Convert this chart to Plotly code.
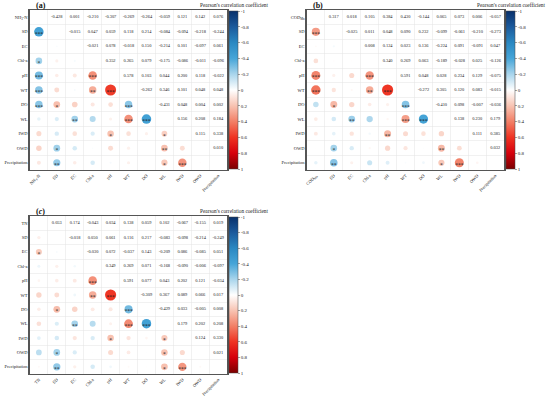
import math
import plotly.graph_objects as go

# ---------------- data ----------------
labels_a = ["NH<sub>3</sub>-N", "SD", "EC", "Chl-a", "pH", "WT", "DO", "WL", "IWD", "OWD", "Precipitation"]
labels_b = ["COD<sub>Mn</sub>", "SD", "EC", "Chl-a", "pH", "WT", "DO", "WL", "IWD", "OWD", "Precipitation"]
labels_c = ["TN", "SD", "EC", "Chl-a", "pH", "WT", "DO", "WL", "IWD", "OWD", "Precipitation"]

# upper-triangle correlation coefficients, row i, columns i+1 .. end
r_a = [
    [-0.428, 0.001, -0.210, -0.307, -0.269, -0.264, -0.059, 0.121, 0.142, 0.076],
    [-0.015, 0.047, 0.059, 0.118, 0.214, -0.084, -0.094, -0.218, -0.244],
    [-0.021, 0.078, -0.018, 0.150, -0.214, 0.101, -0.097, 0.061],
    [0.352, 0.265, 0.079, -0.175, -0.086, -0.011, -0.096],
    [0.578, 0.103, 0.044, 0.200, 0.118, -0.022],
    [-0.262, 0.346, 0.101, 0.048, 0.048],
    [-0.431, 0.048, 0.004, 0.002],
    [0.156, 0.208, 0.184],
    [0.115, 0.338],
    [0.010],
]
r_b = [
    [0.317, 0.018, 0.105, 0.384, 0.430, -0.144, 0.065, 0.073, 0.006, -0.057],
    [-0.025, 0.011, 0.048, 0.090, 0.232, -0.099, -0.061, -0.210, -0.273],
    [0.008, 0.124, 0.023, 0.136, -0.224, 0.091, -0.091, 0.047],
    [0.340, 0.269, 0.063, -0.189, -0.028, 0.025, -0.126],
    [0.591, 0.048, 0.028, 0.234, 0.129, -0.075],
    [-0.272, 0.305, 0.120, 0.083, -0.015],
    [-0.410, 0.098, -0.007, -0.036],
    [0.138, 0.230, 0.179],
    [0.111, 0.385],
    [0.032],
]
r_c = [
    [0.053, 0.174, -0.043, 0.034, 0.138, 0.059, 0.102, -0.067, -0.155, 0.019],
    [-0.018, 0.050, 0.061, 0.116, 0.217, -0.083, -0.098, -0.214, -0.249],
    [-0.030, 0.072, -0.037, 0.143, -0.209, 0.086, -0.085, 0.051],
    [0.349, 0.269, 0.071, -0.168, -0.090, -0.006, -0.097],
    [0.591, 0.077, 0.043, 0.202, 0.121, -0.034],
    [-0.309, 0.367, 0.089, 0.066, 0.017],
    [-0.429, 0.033, -0.005, 0.008],
    [0.179, 0.202, 0.208],
    [0.124, 0.330],
    [0.021],
]

# significance marks in the lower triangle: (row, col, stars)
stars_a = [(1, 0, "***"), (3, 0, "*"), (4, 0, "***"), (4, 3, "***"), (5, 0, "***"), (5, 3, "**"),
           (5, 4, "***"), (6, 0, "***"), (6, 1, "*"), (6, 5, "***"), (7, 2, "**"), (7, 5, "***"),
           (7, 6, "***"), (8, 4, "*"), (8, 7, "*"), (9, 1, "*"), (9, 7, "**"), (10, 1, "**"),
           (10, 7, "*"), (10, 8, "***")]
stars_b = [(1, 0, "***"), (4, 0, "***"), (4, 3, "***"), (5, 0, "***"), (5, 3, "**"), (5, 4, "***"),
           (6, 1, "*"), (6, 5, "***"), (7, 2, "**"), (7, 5, "***"), (7, 6, "***"), (8, 4, "**"),
           (9, 1, "*"), (9, 7, "**"), (10, 1, "**"), (10, 7, "*"), (10, 8, "***")]
stars_c = [(2, 0, "*"), (4, 3, "***"), (5, 3, "**"), (5, 4, "***"), (6, 1, "*"), (6, 5, "***"),
           (7, 2, "**"), (7, 5, "***"), (7, 6, "***"), (8, 4, "*"), (8, 7, "*"), (9, 1, "*"),
           (9, 7, "*"), (10, 1, "**"), (10, 7, "*"), (10, 8, "***")]

cbar_ticks = [-1, -0.8, -0.6, -0.4, -0.2, 0, 0.2, 0.4, 0.6, 0.8, 1]
panel_tags = ["(a)", "(b)", "(<i>c</i>)"]
cbar_title = "Pearson's correlation coefficient"

# ---------------- style ----------------
FONT = "Liberation Serif"
W, H = 550, 398
scale = [[0.0, "#08306b"], [0.1, "#1c5a9c"], [0.2, "#2a88c2"], [0.3, "#46a5d8"], [0.4, "#a9d5ec"],
         [0.5, "#ffffff"], [0.6, "#f8c3b2"], [0.7, "#f27f66"], [0.8, "#ef3322"], [0.9, "#d6000c"],
         [1.0, "#7a0000"]]
rev_scale = [[round(1 - p, 6), c] for p, c in reversed(scale)]

# pixel geometry of each panel: (x0, x1, y0_top, y1_bottom)
geom = [(28, 226, 10, 170), (306, 504, 10, 170), (28, 226, 216, 374)]
panels = [(labels_a, r_a, stars_a), (labels_b, r_b, stars_b), (labels_c, r_c, stars_c)]

fig = go.Figure()


def fmt_tick(v):
    v = -v
    if abs(v) < 1e-9:
        return "0"
    return f"{v:g}"


for k, ((labels, r, stars), (x0, x1, y0, y1)) in enumerate(zip(panels, geom)):
    n = len(labels)
    ax = "" if k == 0 else str(k + 1)
    xref, yref = "x" + ax, "y" + ax
    star_map = {(i, j): s for i, j, s in stars}

    cx, cy, cval, csize = [], [], [], []
    tx, ty, tt = [], [], []
    sx, sy, st = [], [], []
    for i, row in enumerate(r):
        for d, v in enumerate(row):
            j = i + 1 + d
            tx.append(j); ty.append(i); tt.append(f"{v:.3f}")
            cx.append(i); cy.append(j); cval.append(v)
            csize.append(14.5 * math.sqrt(abs(v)))
            s = star_map.get((j, i))
            if s:
                sx.append(i); sy.append(j + 0.18); st.append(s)

    fig.add_trace(go.Scatter(
        x=cx, y=cy, mode="markers", xaxis=xref, yaxis=yref, showlegend=False, hoverinfo="skip",
        marker=dict(size=csize, color=cval, colorscale=scale, cmin=-1, cmax=1, line=dict(width=0),
                    opacity=1, showscale=False)))
    fig.add_trace(go.Scatter(
        x=sx, y=sy, mode="text", text=st, xaxis=xref, yaxis=yref, showlegend=False, hoverinfo="skip",
        textfont=dict(family=FONT, size=5.5, color="#1a1a1a")))
    fig.add_trace(go.Scatter(
        x=tx, y=ty, mode="text", text=tt, xaxis=xref, yaxis=yref, showlegend=False, hoverinfo="skip",
        textfont=dict(family=FONT, size=4.4, color="#222222")))
    fig.add_trace(go.Scatter(
        x=[None, None], y=[None, None], mode="markers", xaxis=xref, yaxis=yref, showlegend=False,
        hoverinfo="skip",
        marker=dict(color=[-1, 1], colorscale=rev_scale, cmin=-1, cmax=1, showscale=True,
                    colorbar=dict(
                        x=(x1 + 2) / W, xanchor="left", y=1 - (y0 + 1) / H, yanchor="top",
                        len=(y1 - y0 - 2), lenmode="pixels", thickness=9, thicknessmode="pixels",
                        xpad=0, ypad=0, outlinewidth=0.5, outlinecolor="#444444",
                        tickmode="array", tickvals=cbar_ticks,
                        ticktext=[fmt_tick(v) for v in cbar_ticks],
                        ticks="outside", ticklen=2, tickwidth=0.5, tickcolor="#444444",
                        tickfont=dict(family=FONT, size=5, color="#222222")))))

    half = [h - 0.5 for h in range(n + 1)]
    axis_common = dict(
        showgrid=False, zeroline=False, showline=True, mirror=True, linecolor="#555555",
        linewidth=1.4, ticks="", tickmode="array", tickvals=list(range(n)), ticktext=labels,
        tickfont=dict(family=FONT, size=4.5, color="#222222"),
        minor=dict(tickmode="array", tickvals=half, showgrid=True, gridcolor="#e4e4e4",
                   gridwidth=0.5, ticks=""),
    )
    xaxis_def = dict(axis_common, domain=[x0 / W, x1 / W], range=[-0.5, n - 0.5],
                     tickangle=-45, anchor=yref)
    xaxis_def["tickfont"] = dict(family=FONT, size=4.4, color="#222222")
    fig.update_layout(**{
        "xaxis" + ax: xaxis_def,
        "yaxis" + ax: dict(axis_common, domain=[1 - y1 / H, 1 - y0 / H], range=[n - 0.5, -0.5],
                           anchor=xref),
    })

    fig.add_annotation(text="<b>" + panel_tags[k] + "</b>", xref="paper", yref="paper",
                       x=(x0 + 4) / W, y=1 - (y0 - 5) / H, xanchor="left", yanchor="middle",
                       showarrow=False, font=dict(family=FONT, size=8, color="#111111"))
    fig.add_annotation(text=cbar_title, xref="paper", yref="paper",
                       x=(x1 + 7) / W, y=1 - (y0 - 5) / H, xanchor="center", yanchor="middle",
                       showarrow=False, font=dict(family=FONT, size=5.3, color="#222222"))

fig.update_layout(width=W, height=H, margin=dict(l=0, r=0, t=0, b=0),
                  paper_bgcolor="white", plot_bgcolor="white")
fig.write_html("out.html", config={"displayModeBar": False, "staticPlot": True},
               post_script="document.body.style.margin='0px';")
